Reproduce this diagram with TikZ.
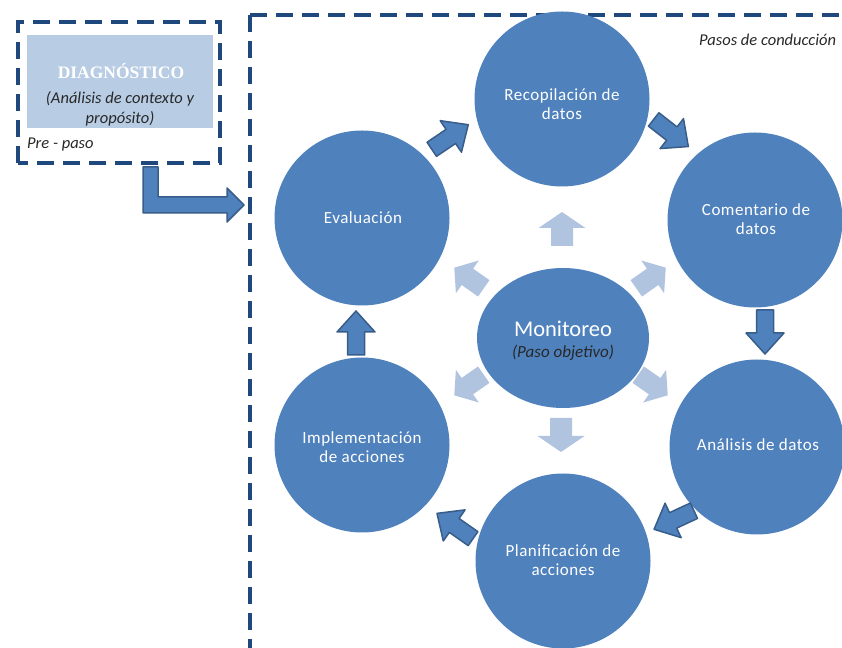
\documentclass[tikz,border=0pt]{standalone}
\usepackage{fontspec}
\usetikzlibrary{shapes.geometric}
\setmainfont{Carlito}
\newfontfamily\diagfont{Liberation Serif}
\newfontfamily\spacedfont[LetterSpace=3]{Carlito}
\definecolor{cblue}{RGB}{79,129,189}
\definecolor{cedge}{RGB}{56,93,138}
\definecolor{clight}{RGB}{176,196,224}
\definecolor{cbox}{RGB}{184,204,228}
\definecolor{cnavy}{RGB}{31,73,125}
\definecolor{ctext}{RGB}{40,40,40}
\newcommand{\barrow}[7]{\path[#7,shift={(#1)},rotate=#2] (-#3/2,-#4/2) -- (#3/2-#6,-#4/2) -- (#3/2-#6,-#5/2) -- (#3/2,0) -- (#3/2-#6,#5/2) -- (#3/2-#6,#4/2) -- (-#3/2,#4/2) -- cycle;}
\begin{document}
\begin{tikzpicture}[x=1pt,y=1pt,
  circ/.style={circle, fill=cblue, minimum size=175pt, inner sep=0pt},
  ctxt/.style={text=white, align=center, font=\spacedfont\fontsize{17}{19.5}\selectfont},
  darkarr/.style={fill=cblue, draw=cedge, line width=1.5pt, line join=round},
  lightarr/.style={fill=clight},
  dashbox/.style={draw=cnavy, line width=3.8pt, dash pattern=on 17pt off 9pt}]
\useasboundingbox (0,0) rectangle (842,647);
\clip (0,0) rectangle (842,647);
% dashed frames
\draw[dashbox] (250,632) -- (900,632);
\draw[dashbox] (250,632) -- (250,-20);
\draw[dashbox] (18,484) rectangle (220,625);
% pre-step box
\node[fill=cbox, minimum width=186pt, minimum height=93pt, inner sep=0pt] (diag) at (120,565.5) {};
\node[text=white, font=\diagfont\bfseries\fontsize{17.5}{19}\selectfont] (diagt) at (121,576) {DIAGNÓSTICO};
\node[text=ctext, align=center, font=\itshape\fontsize{16.5}{20}\selectfont] (diags) at (120,538) {(Análisis de contexto y\\propósito)};
\node[text=ctext, anchor=west, font=\itshape\fontsize{16.5}{18}\selectfont, inner sep=0pt] (pre) at (27,502) {Pre - paso};
\node[text=ctext, anchor=west, font=\itshape\fontsize{16.5}{18}\selectfont, inner sep=0pt] (pasos) at (699,607) {Pasos de conducción};
% bent arrow
\path[darkarr] (143,480) -- (158,480) -- (158,450) -- (227,450) -- (227,459) -- (244,442) -- (227,425) -- (227,434) -- (143,434) -- cycle;
% circles
\node[circ] (rec) at (562,548) {};
\node[circ] (com) at (755,427) {};
\node[circ] (ana) at (757,200) {};
\node[circ] (pla) at (563,86) {};
\node[circ] (imp) at (362,202) {};
\node[circ] (eva) at (362,429) {};
\node[ellipse, fill=cblue, minimum width=172pt, minimum height=140pt, inner sep=0pt] (mon) at (563,309) {};
% circle texts
\node[ctxt] (rect) at (562,543) {Recopilación de\\datos};
\node[ctxt] (comt) at (756,428) {Comentario de\\datos};
\node[ctxt] (anat) at (758,202) {Análisis de datos};
\node[ctxt] (plat) at (563,87) {Planificación de\\acciones};
\node[ctxt] (impt) at (362,200) {Implementación\\de acciones};
\node[ctxt] (evat) at (363,429) {Evaluación};
\node[text=white, font=\fontsize{22.5}{24}\selectfont] (mont) at (563,318) {Monitoreo};
\node[text=ctext, font=\itshape\fontsize{17}{18}\selectfont] (mons) at (563,294) {(Paso objetivo)};
% cycle arrows
\barrow{450,510}{34}{44}{17}{38}{21}{darkarr}
\barrow{671,514}{-38}{44}{17}{38}{21}{darkarr}
\barrow{765,315}{-90}{44}{17}{38}{21}{darkarr}
\barrow{674,127}{205}{44}{17}{38}{21}{darkarr}
\barrow{455,121}{145}{44}{17}{38}{21}{darkarr}
\barrow{356,314}{90}{44}{17}{38}{21}{darkarr}
% monitoring arrows
\barrow{562,418}{90}{34}{22}{47}{16}{lightarr}
\barrow{561,212}{-90}{34}{22}{47}{16}{lightarr}
\barrow{469,369}{145}{36}{20}{40}{16}{lightarr}
\barrow{651,369}{35}{36}{20}{40}{16}{lightarr}
\barrow{469,262}{215}{36}{20}{40}{16}{lightarr}
\barrow{653,262}{-35}{36}{20}{40}{16}{lightarr}
\end{tikzpicture}
\end{document}
